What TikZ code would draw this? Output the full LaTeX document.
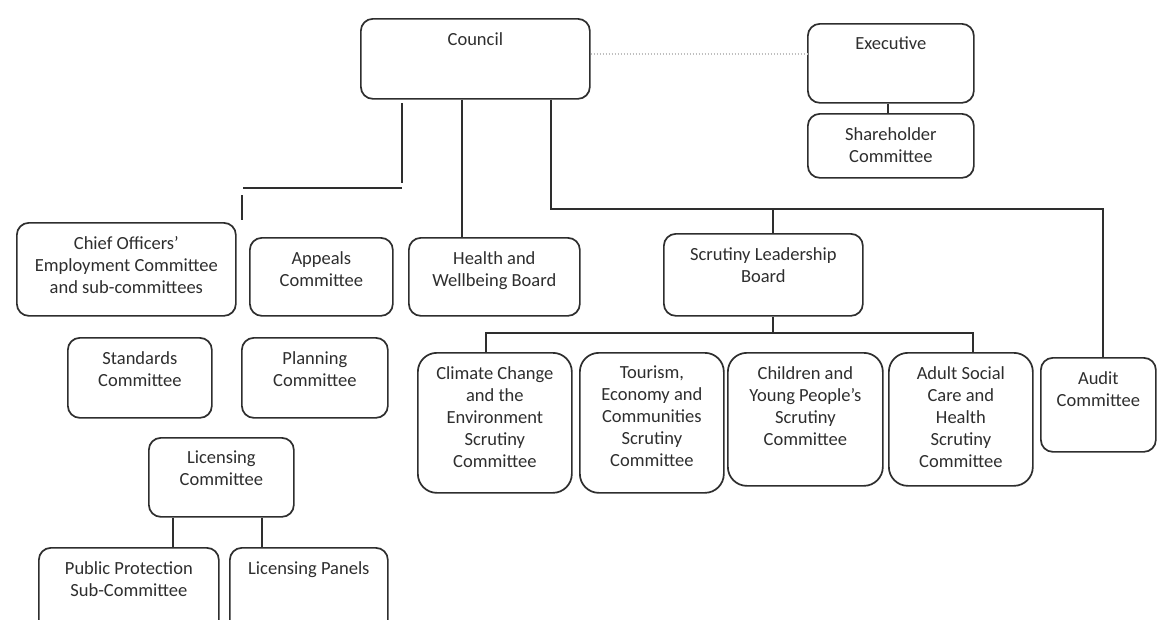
\documentclass[tikz,border=0pt]{standalone}
\usepackage{fontspec}
\setmainfont{Carlito}
\definecolor{ink}{HTML}{2E2E2E}
\newcommand\orgbox[6][box]{%
  \node[#1, minimum width=#4pt, minimum height=#5pt] (#2) at (#3) {};
  \node[txt] at ([yshift=-14pt]#2.north) {#6};}
\begin{document}
\begin{tikzpicture}[x=1pt,y=-1pt,
  box/.style={draw=ink, line width=1.7pt, rounded corners=12pt, anchor=north west, inner sep=0pt},
  bigbox/.style={box, rounded corners=19pt},
  txt/.style={text=ink, font=\fontsize{18.5}{22}\selectfont, align=center, anchor=north, inner sep=0pt},
  link/.style={draw=ink, line width=1.7pt},
  dotline/.style={draw=gray!50, line width=2pt, dash pattern=on 1.5pt off 1.5pt}]
\fill[white] (0,0) rectangle (1157,619);
\clip (0,0) rectangle (1157,619);

\orgbox{council}{360,18}{229}{80}{Council}
\orgbox{exec}{807,23}{166}{79}{Executive}
\orgbox{share}{807,113}{166}{64}{Shareholder\\Committee}
\orgbox{chief}{16,222}{219}{93}{Chief Officers’\\Employment Committee\\and sub-committees}
\orgbox{appeals}{249,237}{143}{78}{Appeals\\Committee}
\orgbox{health}{408,237}{171}{78}{Health and\\Wellbeing Board}
\orgbox{slb}{663,233}{199}{82}{Scrutiny Leadership\\Board}
\orgbox{standards}{67,337}{144}{80}{Standards\\Committee}
\orgbox{planning}{241,337}{146}{80}{Planning\\Committee}
\orgbox{licensing}{148,437}{145}{79}{Licensing\\Committee}
\orgbox{pubprot}{38,547}{180}{100}{Public Protection\\Sub-Committee}
\orgbox{panels}{229,547}{158}{100}{Licensing Panels}
\orgbox[bigbox]{climate}{417,352}{154}{140}{Climate Change\\and the\\Environment\\Scrutiny\\Committee}
\orgbox[bigbox]{tourism}{579,352}{144}{140}{Tourism,\\Economy and\\Communities\\Scrutiny\\Committee}
\orgbox[bigbox]{children}{727,352}{155}{133}{Children and\\Young People’s\\Scrutiny\\Committee}
\orgbox[bigbox]{adult}{888,352}{144}{133}{Adult Social\\Care and\\Health\\Scrutiny\\Committee}
\orgbox[box]{audit}{1040,357}{115}{94}{Audit\\Committee}

% coordinates
\coordinate (dl) at (0,54);
\coordinate (mx) at (462,0);
\coordinate (rj) at (551,209);
\coordinate (sj) at (773,209);
\coordinate (aj) at (1103,209);
\coordinate (bar) at (773,333);
\coordinate (barL) at (486,333);
\coordinate (barR) at (973,333);
\coordinate (ex) at (888,0);
\coordinate (l1a) at (402,103);
\coordinate (l1b) at (402,183);
\coordinate (l2a) at (243,188);
\coordinate (l2b) at (402,188);
\coordinate (l3a) at (242,195);
\coordinate (l3b) at (242,220);
\coordinate (lp) at (173,0);
\coordinate (ll) at (262,0);

\draw[dotline] (council.east |- dl) -- (exec.west |- dl);
\draw[link] (ex |- exec.south) -- (ex |- share.north);
\draw[link] (mx |- council.south) -- (mx |- health.north);
\draw[link] (rj |- council.south) -- (rj) -- (aj) -- (aj |- audit.north);
\draw[link] (sj) -- (sj |- slb.north);
\draw[link] (bar |- slb.south) -- (bar);
\draw[link] (barL |- climate.north) -- (barL) -- (barR) -- (barR |- adult.north);
\draw[link] (l1a) -- (l1b);
\draw[link] (l2a) -- (l2b);
\draw[link] (l3a) -- (l3b);
\draw[link] (lp |- licensing.south) -- (lp |- pubprot.north);
\draw[link] (ll |- licensing.south) -- (ll |- panels.north);
\end{tikzpicture}
\end{document}
